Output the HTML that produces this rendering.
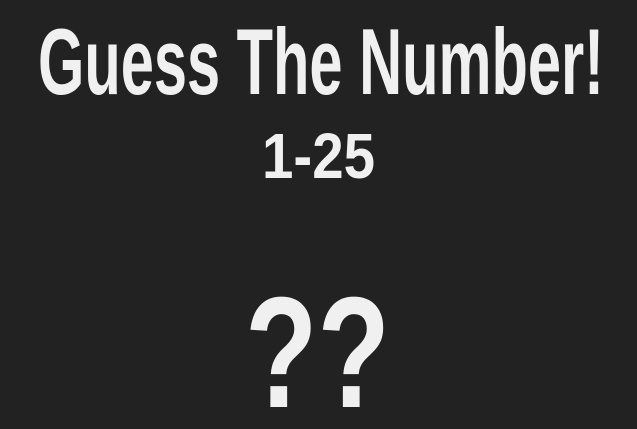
<!DOCTYPE html>
<html>
<head>
<meta charset="utf-8">
<style>
  html, body { margin:0; padding:0; background:#222222; }
  body { width:637px; height:424px; overflow:hidden; }
  svg text { font-family:"Liberation Sans Narrow","Liberation Sans",sans-serif; font-weight:bold; fill:#f0f0f0; }
</style>
</head>
<body>
<svg width="637" height="424" viewBox="0 0 637 424">
  <rect x="0" y="0" width="637" height="424" fill="#222222"/>
  <text x="38" y="94" font-size="94" textLength="566" lengthAdjust="spacingAndGlyphs">Guess The Number!</text>
  <text x="262" y="178" font-size="64" textLength="113" lengthAdjust="spacingAndGlyphs">1-25</text>
  <text x="245" y="407" font-size="158" textLength="145" lengthAdjust="spacingAndGlyphs">??</text>
</svg>
</body>
</html>
